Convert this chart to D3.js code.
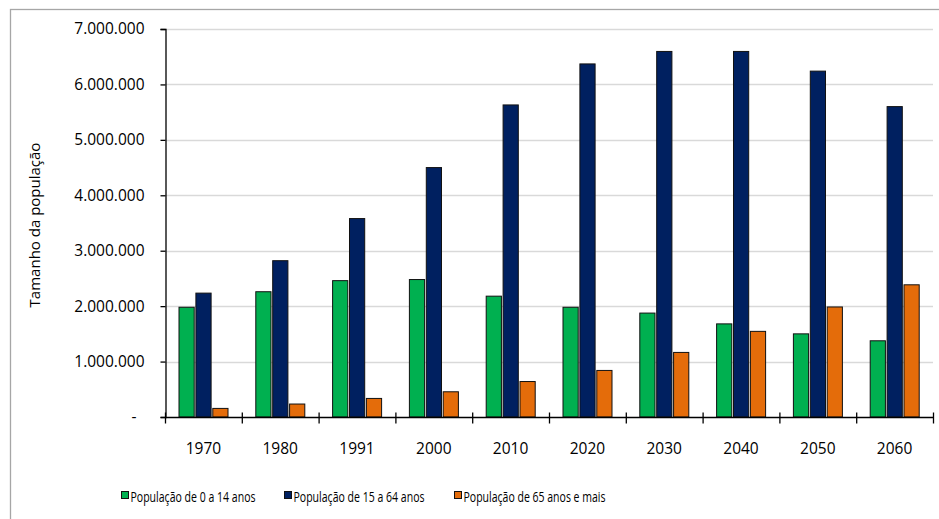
<!DOCTYPE html>
<html><head><meta charset="utf-8">
<script src="https://cdn.jsdelivr.net/npm/d3@7"></script>
<style>
html,body{margin:0;padding:0;background:#fff;}
svg{display:block;font-family:"Open Sans",sans-serif;}
</style></head>
<body>
<svg id="c" width="939" height="519"></svg>
<script>
const years = ["1970","1980","1991","2000","2010","2020","2030","2040","2050","2060"];
const seriesNames = ["População de 0 a 14 anos","População de 15 a 64 anos","População de 65 anos e mais"];
const pop0_14  = [1980000,2260000,2460000,2480000,2180000,1980000,1875000,1680000,1500000,1375000];
const pop15_64 = [2235000,2820000,3580000,4500000,5630000,6370000,6595000,6595000,6240000,5600000];
const pop65    = [155000,234000,335000,455000,640000,840000,1165000,1545000,1985000,2385000];
const yTicks = [0,1000000,2000000,3000000,4000000,5000000,6000000,7000000];
const colors = ["#00b050","#002060","#e46c0a"];
const yLabel = "Tamanho da população";

const seriesValues = [pop0_14, pop15_64, pop65];
const svg = d3.select("#c");
const M = {left:165, right:933, top:29, bottom:417};

// frame
svg.append("rect").attr("x",10.5).attr("y",9.5).attr("width",960).attr("height",540)
  .attr("fill","none").attr("stroke","#a6a6a6").attr("stroke-width",1.3);

const x = d3.scaleBand().domain(years).range([M.left, M.right]).padding(0);
const xi = d3.scaleBand().domain(d3.range(3)).range([14, 63]).paddingInner(0.1).paddingOuter(0);
const y = d3.scaleLinear().domain([0,7000000]).range([M.bottom, M.top]);

const loc = d3.formatLocale({decimal:",", thousands:".", grouping:[3], currency:["",""]});
const fmt = loc.format(",d");

// gridlines
svg.append("g").selectAll("line").data(yTicks.filter(d=>d>0)).join("line")
  .attr("x1",M.left).attr("x2",M.right)
  .attr("y1",d=>Math.round(y(d))+0.5).attr("y2",d=>Math.round(y(d))+0.5)
  .attr("stroke","#d9d9d9").attr("stroke-width",1.3);

// bars
const g = svg.append("g");
years.forEach((yr,i)=>{
  seriesValues.forEach((vals,s)=>{
    g.append("rect")
      .attr("x", x(yr)+xi(s))
      .attr("y", y(vals[i]))
      .attr("width", xi.bandwidth())
      .attr("height", y(0)-y(vals[i]))
      .attr("fill", colors[s])
      .attr("stroke","#111").attr("stroke-width",1);
  });
});

// y axis
const yAxis = d3.axisLeft(y).tickValues(yTicks).tickSize(5).tickPadding(16)
  .tickFormat(d=> d===0 ? "-" : fmt(d));
const ya = svg.append("g").attr("transform",`translate(${M.left+0.5},0)`).call(yAxis);
ya.select(".domain").attr("stroke","#000").attr("stroke-width",1.3);
ya.selectAll(".tick line").attr("stroke","#000").attr("stroke-width",1.3);
ya.selectAll(".tick text").attr("font-size","15.5px").attr("fill","#000")
  .attr("font-family","'Open Sans',sans-serif")
  .attr("dx", d=> d===0 ? -8 : 0);

// x axis
const xa = svg.append("g").attr("transform",`translate(0,${M.bottom+0.5})`);
xa.append("line").attr("x1",M.left).attr("x2",M.right+1).attr("stroke","#000").attr("stroke-width",1.3);
const bounds = years.map(d=>x(d)).concat([M.right]);
xa.selectAll("line.t").data(bounds).join("line").attr("class","t")
  .attr("x1",d=>d+0.5).attr("x2",d=>d+0.5).attr("y1",-5).attr("y2",6)
  .attr("stroke","#000").attr("stroke-width",1.3);
xa.selectAll("text").data(years).join("text")
  .attr("x",d=>x(d)+x.bandwidth()/2).attr("y",36)
  .attr("text-anchor","middle").attr("font-size","15.5px").attr("fill","#000")
  .text(d=>d);

// y label
svg.append("text").attr("transform","translate(40,225) rotate(-90)")
  .attr("text-anchor","middle").attr("font-size","15px").attr("fill","#000").text(yLabel);

// legend
const legX = [121, 284, 454];
const legW = [125, 131, 142];
const lg = svg.append("g");
seriesNames.forEach((n,s)=>{
  lg.append("rect").attr("x",legX[s]+0.5).attr("y",491.5).attr("width",7).attr("height",7)
    .attr("fill",colors[s]).attr("stroke","#111").attr("stroke-width",1);
  lg.append("text").attr("x",legX[s]+9.5).attr("y",501.5).attr("font-size","15px").attr("fill","#000")
    .attr("textLength",legW[s]).attr("lengthAdjust","spacingAndGlyphs").text(n);
});
</script>
</body></html>
